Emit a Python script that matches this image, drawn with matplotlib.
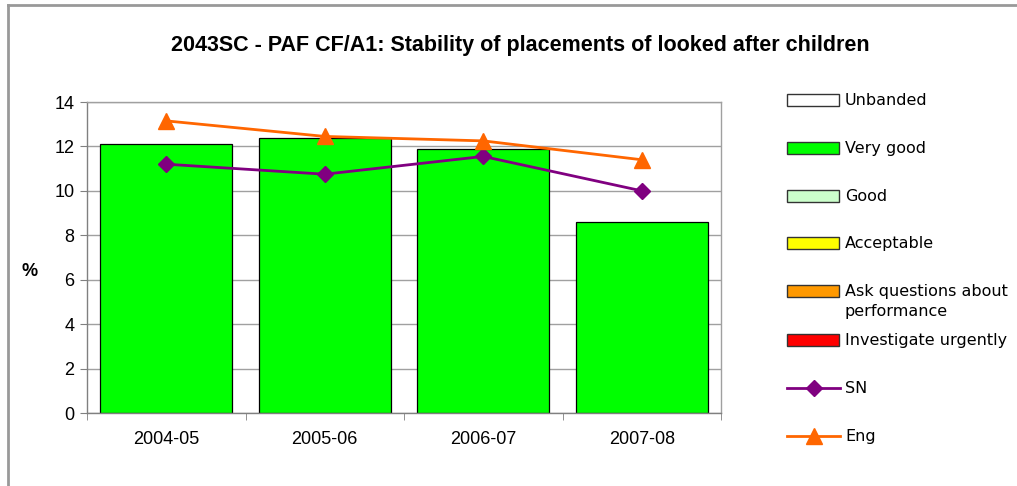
import matplotlib
matplotlib.use("Agg")
import matplotlib.pyplot as plt
from matplotlib.patches import Rectangle
from matplotlib.lines import Line2D

categories = ["2004-05", "2005-06", "2006-07", "2007-08"]
very_good = [12.1, 12.4, 11.9, 8.6]
sn = [11.2, 10.75, 11.55, 10.0]
eng = [13.15, 12.45, 12.25, 11.4]
y_ticks = [0, 2, 4, 6, 8, 10, 12, 14]

legend_items = [
    ("Unbanded", "patch", "#FFFFFF"),
    ("Very good", "patch", "#00FF00"),
    ("Good", "patch", "#CCFFCC"),
    ("Acceptable", "patch", "#FFFF00"),
    ("Ask questions about\nperformance", "patch", "#FF9900"),
    ("Investigate urgently", "patch", "#FF0000"),
    ("SN", "line", "#800080"),
    ("Eng", "line", "#FF6600"),
]

W, H = 1017, 486
fig = plt.figure(figsize=(W / 100, H / 100), dpi=100)
fig.patch.set_facecolor("white")

def fx(px):
    return px / W

def fy(py):
    return 1 - py / H

ax = fig.add_axes([fx(87), fy(413), fx(721) - fx(87), fy(102) - fy(413)])
x = list(range(len(categories)))
ax.bar(x, very_good, width=0.83, color="#00FF00", edgecolor="black", linewidth=0.9, zorder=2)
ax.plot(x, sn, color="#800080", linewidth=2, marker="D", markersize=8, zorder=3)
ax.plot(x, eng, color="#FF6600", linewidth=2, marker="^", markersize=11, zorder=3)

ax.set_xlim(-0.5, len(categories) - 0.5)
ax.set_ylim(0, 14)
ax.set_yticks(y_ticks)
ax.yaxis.grid(True, color="#A0A0A0", linewidth=1, zorder=0)
ax.set_axisbelow(True)
ax.set_xticks(x)
ax.set_xticklabels(categories, fontfamily="Liberation Sans", fontsize=13)
ax.set_xticks([i - 0.5 for i in range(len(categories) + 1)], minor=True)
ax.tick_params(axis="x", which="major", length=0, pad=13)
ax.tick_params(axis="x", which="minor", length=5, color="#808080", direction="out")
ax.tick_params(axis="y", length=5, color="#808080", direction="out", pad=4)
for lab in ax.get_yticklabels():
    lab.set_fontfamily("Liberation Sans")
    lab.set_fontsize(13)
for s in ax.spines.values():
    s.set_color("#A0A0A0")
    s.set_linewidth(1)
ax.spines["left"].set_color("#808080")
ax.spines["bottom"].set_color("#808080")

fig.text(fx(30), fy(272), "%", fontfamily="Liberation Sans", fontsize=13,
         fontweight="bold", ha="center", va="center")
fig.text(fx(520), fy(45), "2043SC - PAF CF/A1: Stability of placements of looked after children",
         fontfamily="Liberation Sans", fontsize=15.5, fontweight="bold", ha="center", va="center")

# chart border
fig.add_artist(Line2D([fx(8), 1], [fy(5), fy(5)], color="#999999", linewidth=2))
fig.add_artist(Line2D([fx(8), fx(8)], [fy(5), 0], color="#999999", linewidth=2))

# legend
ys = [100, 148, 196, 243, 291, 340, 388, 436]
for (label, kind, col), yy in zip(legend_items, ys):
    if kind == "patch":
        fig.add_artist(Rectangle((fx(787), fy(yy + 6)), fx(839) - fx(787), fy(yy - 6) - fy(yy + 6),
                                 facecolor=col, edgecolor="#333333", linewidth=1))
    else:
        mk = "D" if label == "SN" else "^"
        ms = 8 if label == "SN" else 11
        fig.add_artist(Line2D([fx(787), fx(840)], [fy(yy), fy(yy)], color=col, linewidth=2))
        fig.add_artist(Line2D([fx(813.5)], [fy(yy)], color=col, marker=mk, markersize=ms, linestyle="none"))
    fig.text(fx(845), fy(yy - 7), label, fontfamily="DejaVu Sans", fontsize=11.5,
             ha="left", va="top", linespacing=1.45)

fig.savefig("out.png", dpi=100)
